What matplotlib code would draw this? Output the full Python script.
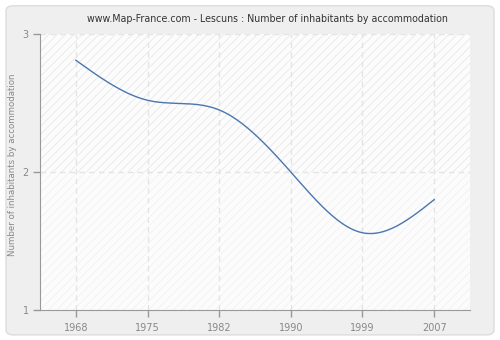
import numpy as np
import matplotlib
matplotlib.use('Agg')
import matplotlib.pyplot as plt
from matplotlib.patches import FancyBboxPatch

# data
years = ['1968', '1975', '1982', '1990', '1999', '2007']
values = [2.81, 2.52, 2.45, 2.0, 1.56, 1.80]
y_ticks = [1, 2, 3]
title = 'www.Map-France.com - Lescuns : Number of inhabitants by accommodation'
y_label = 'Number of inhabitants by accommodation'

plt.rcParams['hatch.linewidth'] = 0.6


def natural_spline(x, y, n=300):
    # natural cubic spline, only used to draw the smooth line between the points
    x = np.asarray(x, float)
    y = np.asarray(y, float)
    k = len(x)
    h = np.diff(x)
    A = np.zeros((k, k))
    b = np.zeros(k)
    A[0, 0] = 1
    A[-1, -1] = 1
    for i in range(1, k - 1):
        A[i, i - 1] = h[i - 1]
        A[i, i] = 2 * (h[i - 1] + h[i])
        A[i, i + 1] = h[i]
        b[i] = 6 * ((y[i + 1] - y[i]) / h[i] - (y[i] - y[i - 1]) / h[i - 1])
    m = np.linalg.solve(A, b)
    xs = np.linspace(x[0], x[-1], n)
    idx = np.clip(np.searchsorted(x, xs) - 1, 0, k - 2)
    t0 = xs - x[idx]
    t1 = x[idx + 1] - xs
    hh = h[idx]
    ys = (m[idx] * t1 ** 3 + m[idx + 1] * t0 ** 3) / (6 * hh) \
        + (y[idx] / hh - m[idx] * hh / 6) * t1 \
        + (y[idx + 1] / hh - m[idx + 1] * hh / 6) * t0
    return xs, ys


fig = plt.figure(figsize=(5, 3.4), dpi=100)
fig.patch.set_facecolor('white')

# rounded grey panel behind everything
panel = FancyBboxPatch((0.012, 0.015), 0.976, 0.968, boxstyle='round,pad=0,rounding_size=0.015',
                       transform=fig.transFigure, facecolor='#efefef', edgecolor='#dcdcdc',
                       linewidth=1, zorder=-10)
fig.patches.append(panel)

ax = fig.add_axes([0.08, 0.088, 0.86, 0.812])
ax.set_facecolor('#fcfcfc')

x = np.arange(len(years))
ax.set_xlim(-0.5, len(years) - 0.5)
ax.set_ylim(1, 3)

# hatched background bands
ax.axhspan(2, 3, facecolor='#fcfcfc', edgecolor='#e8e8e8', hatch='////', linewidth=0, zorder=0)
ax.axhspan(1, 2, facecolor='#fcfcfc', edgecolor='#f2f2f2', hatch='////', linewidth=0, zorder=0)

# dashed grid
for xi in x:
    ax.axvline(xi, color='#e4e4e4', linestyle=(0, (4, 3)), linewidth=1, zorder=1)
ax.axhline(2, color='#e4e4e4', linestyle=(0, (4, 3)), linewidth=1, zorder=1)
ax.axhline(3, color='#e4e4e4', linestyle=(0, (4, 3)), linewidth=1, zorder=1)

xs, ys = natural_spline(x, values)
ax.plot(xs, ys, color='#4a76b0', linewidth=1, zorder=3)

ax.set_xticks(x)
ax.set_xticklabels(years)
ax.set_yticks(y_ticks)
ax.set_yticklabels([str(v) for v in y_ticks])

ax.spines['top'].set_visible(False)
ax.spines['right'].set_visible(False)
ax.spines['left'].set_color('#999999')
ax.spines['bottom'].set_color('#999999')
ax.tick_params(axis='both', direction='out', length=5, width=1, color='#999999',
               labelcolor='#888888', labelsize=7)
ax.tick_params(axis='x', pad=4)
ax.tick_params(axis='y', pad=3)

ax.set_ylabel(y_label, fontsize=6.2, color='#888888', va='center')
ax.yaxis.set_label_coords(-0.063, 0.525)
fig.text(0.535, 0.945, title, ha='center', va='center', fontsize=6.85, color='#333333')

fig.savefig('out.png', dpi=100, facecolor=fig.get_facecolor())
